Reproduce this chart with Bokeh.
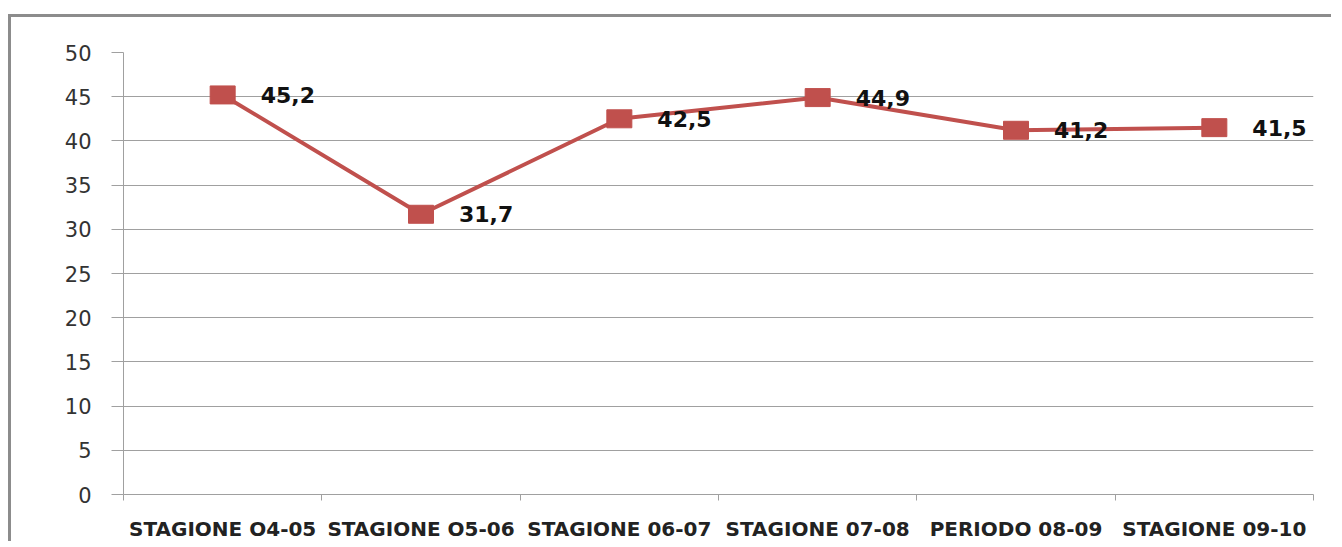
from bokeh.plotting import figure
from bokeh.models import FixedTicker, ColumnDataSource, Range1d
from bokeh.core.properties import value
from bokeh.embed import file_html
from bokeh.resources import INLINE

categories = ["STAGIONE O4-05", "STAGIONE O5-06", "STAGIONE 06-07",
              "STAGIONE 07-08", "PERIODO 08-09", "STAGIONE 09-10"]
values = [45.2, 31.7, 42.5, 44.9, 41.2, 41.5]
value_labels = ["45,2", "31,7", "42,5", "44,9", "41,2", "41,5"]
y_ticks = [0, 5, 10, 15, 20, 25, 30, 35, 40, 45, 50]

xs = [i + 0.5 for i in range(len(categories))]
src = ColumnDataSource(dict(x=xs, y=values, lab=value_labels))

p = figure(width=1323, height=527, output_backend="svg", toolbar_location=None,
           x_range=Range1d(0, len(categories)), y_range=Range1d(0, 50),
           min_border_left=112, min_border_right=21, min_border_top=35, min_border_bottom=50)
p.styles = {"margin-top": "14px", "margin-left": "8px",
            "border-left": "3px solid #8c8c8c", "border-top": "3px solid #8c8c8c"}
p.outline_line_color = None
p.background_fill_color = "white"
p.border_fill_color = "white"

p.line("x", "y", source=src, line_color="#c0504d", line_width=4)
p.rect("x", "y", width=25, height=18, width_units="screen", height_units="screen",
       source=src, fill_color="#c0504d", line_color="#c0504d")
p.text("x", "y", text="lab", source=src, x_offset=38, text_align="left", text_baseline="middle",
       text_font=value("DejaVu Sans"), text_font_style="bold", text_font_size="22px",
       text_color="#111111")

# y axis
p.yaxis.ticker = FixedTicker(ticks=y_ticks)
p.yaxis.axis_line_color = "#a0a0a0"
p.yaxis.major_tick_line_color = "#a0a0a0"
p.yaxis.major_tick_out = 12
p.yaxis.major_tick_in = 0
p.yaxis.minor_tick_line_color = None
p.yaxis.major_label_standoff = 20
p.yaxis.major_label_text_font = "DejaVu Sans"
p.yaxis.major_label_text_font_size = "21px"
p.yaxis.major_label_text_color = "#333333"
p.ygrid.grid_line_color = "#a0a0a0"
p.ygrid.ticker = FixedTicker(ticks=y_ticks)

# x axis: labels at centers, ticks at boundaries
p.xaxis.ticker = FixedTicker(ticks=xs, minor_ticks=list(range(len(categories) + 1)))
p.xaxis.major_label_overrides = {x: c for x, c in zip(xs, categories)}
p.xaxis.axis_line_color = "#a0a0a0"
p.xaxis.major_tick_line_color = None
p.xaxis.major_tick_out = 0
p.xaxis.major_tick_in = 0
p.xaxis.minor_tick_line_color = "#a0a0a0"
p.xaxis.minor_tick_out = 6
p.xaxis.minor_tick_in = 0
p.xaxis.major_label_standoff = 16
p.xaxis.major_label_text_font = "DejaVu Sans"
p.xaxis.major_label_text_font_style = "bold"
p.xaxis.major_label_text_font_size = "20px"
p.xaxis.major_label_text_color = "#222222"
p.xgrid.grid_line_color = None

open("out.html", "w").write(file_html(p, INLINE))
